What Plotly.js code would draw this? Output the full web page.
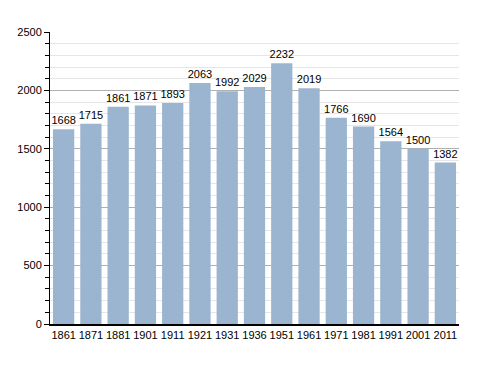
<!DOCTYPE html>
<html><head><meta charset="utf-8">
<script src="https://cdn.plot.ly/plotly-3.0.1.min.js"></script>
<style>body{margin:0;padding:0;background:#fff}</style>
</head><body>
<div id="chart" style="width:488px;height:373px"></div>
<script>
const years = ["1861","1871","1881","1901","1911","1921","1931","1936","1951","1961","1971","1981","1991","2001","2011"];
const population = [1668,1715,1861,1871,1893,2063,1992,2029,2232,2019,1766,1690,1564,1500,1382];

Plotly.newPlot('chart', [{
  type: 'bar',
  x: years,
  y: population,
  text: population.map(String),
  textposition: 'outside',
  constraintext: 'none',
  cliponaxis: false,
  textfont: {family: 'Liberation Sans, Arial, sans-serif', size: 11, color: '#000'},
  marker: {color: '#9bb4d0'},
  hoverinfo: 'x+y'
}], {
  width: 488, height: 373,
  margin: {l: 50, r: 29, t: 32, b: 49},
  paper_bgcolor: '#fff', plot_bgcolor: '#fff',
  bargap: 0.22,
  showlegend: false,
  font: {family: 'Liberation Sans, Arial, sans-serif', size: 11, color: '#000'},
  xaxis: {
    type: 'category',
    showline: true, linecolor: '#000', linewidth: 1.5,
    ticks: '', showgrid: false,
    tickfont: {size: 11}
  },
  yaxis: {
    range: [0, 2500],
    dtick: 500,
    showline: true, linecolor: '#000', linewidth: 1,
    ticks: 'outside', ticklen: 5, tickcolor: '#000',
    gridcolor: '#b0b0b0', gridwidth: 1,
    zeroline: false,
    tickfont: {size: 11},
    minor: {dtick: 100, showgrid: true, gridcolor: '#e6e6e6', ticks: 'outside', ticklen: 4, tickcolor: '#000'}
  }
}, {displayModeBar: false, staticPlot: true});
</script>
</body></html>
